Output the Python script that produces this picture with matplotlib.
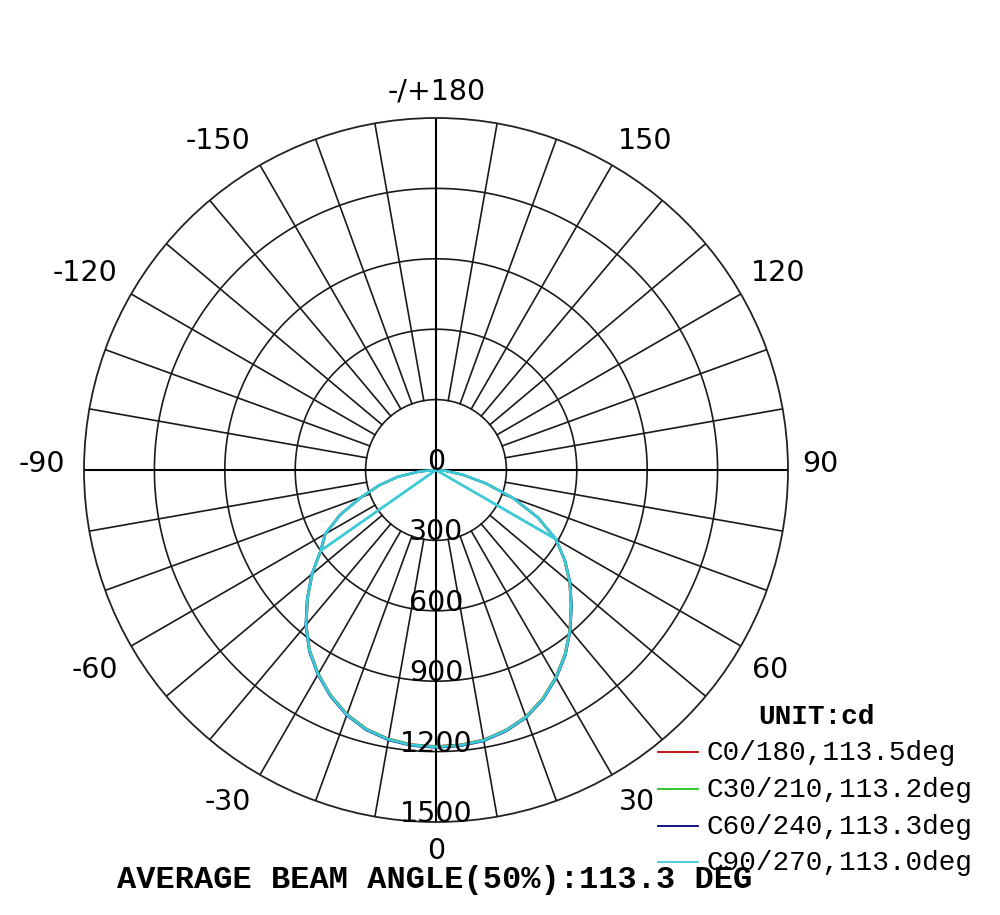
import numpy as np
import matplotlib
matplotlib.use("Agg")
import matplotlib.pyplot as plt

# ---------------- data ----------------
# Gamma angles (deg), 5 degree steps
gamma = [-90, -85, -80, -75, -70, -65, -60, -55, -50, -45, -40, -35, -30,
         -25, -20, -15, -10, -5, 0, 5, 10, 15, 20, 25, 30, 35, 40, 45,
         50, 55, 60, 65, 70, 75, 80, 85, 90]
c0_cd = [0, 68, 162, 247, 337, 447, 542, 597, 687, 772, 859, 937, 1002,
         1059, 1107, 1142, 1163, 1174, 1177, 1175, 1167, 1147, 1118, 1074,
         1019, 957, 886, 812, 742, 667, 587, 477, 347, 217, 112, 38, 0]
c30_cd = [0, 69, 163, 248, 338, 448, 543, 598, 688, 773, 860, 938, 1003,
          1060, 1108, 1143, 1164, 1175, 1178, 1176, 1168, 1148, 1119, 1075,
          1020, 958, 887, 813, 743, 668, 588, 478, 348, 218, 113, 39, 0]
c60_cd = [0, 71, 166, 251, 341, 452, 547, 602, 693, 778, 865, 943, 1008,
          1065, 1113, 1148, 1169, 1180, 1183, 1181, 1173, 1153, 1124, 1080,
          1025, 963, 892, 818, 748, 672, 592, 481, 351, 221, 116, 41, 0]
# C90/270 plane, points in drawing order
c90_gamma = [-55, -90, -85, -80, -75, -70, -65, -60, -55, -50, -45, -40,
             -35, -30, -25, -20, -15, -10, -5, 0, 5, 10, 15, 20, 25, 30,
             35, 40, 45, 50, 55, 60, 65, 70, 75, 80, 85, 90, 60]
c90_cd = [600, 0, 70, 165, 250, 340, 450, 545, 600, 690, 775, 862, 940,
          1005, 1062, 1110, 1145, 1166, 1177, 1180, 1178, 1170, 1150, 1121,
          1077, 1022, 960, 889, 815, 745, 670, 590, 480, 350, 220, 115, 40,
          0, 590]

series_labels = ["C0/180,113.5deg", "C30/210,113.2deg",
                 "C60/240,113.3deg", "C90/270,113.0deg"]
series_colors = ["#c00000", "#20c020", "#000080", "#3ccad8"]

ring_values = [300, 600, 900, 1200, 1500]
ring_labels = ["300", "600", "900", "1200", "1500"]
angle_labels = ["-/+180", "-150", "150", "-120", "120", "-90", "90",
                "-60", "60", "-30", "30", "0"]
unit_text = "UNIT:cd"
footer_text = "AVERAGE BEAM ANGLE(50%):113.3 DEG"

# ---------------- figure ----------------
W, H = 1000, 915
fig = plt.figure(figsize=(W / 100, H / 100), dpi=100)
fig.patch.set_facecolor("white")

cx, cy, R = 436, 470, 352
ax = fig.add_axes([(cx - R) / W, 1 - (cy + R) / H, 2 * R / W, 2 * R / H],
                  projection="polar")
ax.set_theta_zero_location("S")
ax.set_theta_direction(1)
ax.set_ylim(0, 1500)
ax.set_xticks([])
ax.set_yticks([])
ax.grid(False)
ax.spines["polar"].set_color("#222222")
ax.spines["polar"].set_linewidth(1.3)

grid_col = "#1a1a1a"
tt = np.linspace(0, 2 * np.pi, 721)
for rv in ring_values[:-1]:
    ax.plot(tt, np.full_like(tt, rv), color=grid_col, lw=1.2, zorder=1)
for a in range(0, 360, 10):
    if a % 90 == 0:
        ax.plot([np.radians(a)] * 2, [0, 1500], color="black", lw=1.5, zorder=1)
    else:
        ax.plot([np.radians(a)] * 2, [300, 1500], color=grid_col, lw=1.2, zorder=1)

# ring labels
for rv, lab in zip([0] + ring_values, ["0"] + ring_labels):
    ax.text(0, rv, lab, ha="center", va="baseline", fontsize=20.5,
            color="black", zorder=5, family="DejaVu Sans")

# series
all_data = [(gamma, c0_cd), (gamma, c30_cd), (gamma, c60_cd), (c90_gamma, c90_cd)]
for (g, v), col, lw in zip(all_data, series_colors, [1.5, 1.5, 1.5, 2.0]):
    ax.plot(np.radians(g), v, color=col, lw=lw, zorder=3)

# angle labels (placed around the outer circle)
label_pos = [(437, 92), (218, 141), (645, 141), (85, 273), (778, 273),
             (42, 464), (820, 464), (95, 670), (770, 670), (228, 802),
             (637, 802), (436, 851)]
for lab, (x, y) in zip(angle_labels, label_pos):
    fig.text(x / W, 1 - y / H, lab, ha="center", va="center",
             fontsize=20.5, color="black", family="DejaVu Sans")

# legend
mono = "Liberation Mono"
fig.text(816 / W, 1 - 717 / H, unit_text, ha="center", va="center",
         fontsize=20, fontweight="bold", family=mono, color="black")
rows_y = [752, 789, 826, 862]
for lab, col, y in zip(series_labels, series_colors, rows_y):
    fig.add_artist(plt.Line2D([658 / W, 698 / W], [1 - y / H, 1 - y / H],
                              color=col, lw=1.3, transform=fig.transFigure))
    fig.text(706 / W, 1 - (y + 1) / H, lab, ha="left", va="center",
             fontsize=20, family=mono, color="black")

fig.text(435 / W, 1 - 880 / H, footer_text, ha="center", va="center",
         fontsize=23, fontweight="bold", family=mono, color="black")

fig.savefig("out.png", dpi=100, facecolor="white")
